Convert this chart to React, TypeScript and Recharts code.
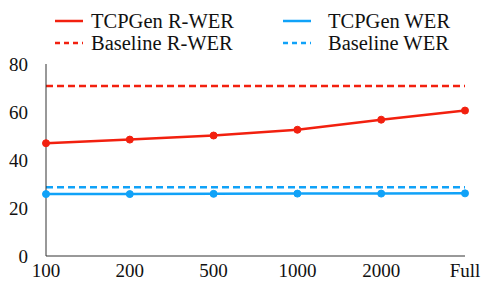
import { LineChart, Line, XAxis, YAxis } from 'recharts'

const categories = ['100', '200', '500', '1000', '2000', 'Full']
const tcpgenRwer = [47.0, 48.5, 50.2, 52.6, 56.8, 60.6]
const tcpgenWer = [25.8, 25.8, 25.9, 26.0, 26.0, 26.1]
const baselineRwer = [70.8, 70.8, 70.8, 70.8, 70.8, 70.8]
const baselineWer = [28.6, 28.6, 28.6, 28.6, 28.6, 28.6]
const yTicks = [0, 20, 40, 60, 80]

const RED = '#f2200f'
const BLUE = '#10a2f8'
const FONT = 'Liberation Serif, DejaVu Serif, serif'

const data = categories.map((c, i) => ({
  name: c,
  tcpgenRwer: tcpgenRwer[i],
  tcpgenWer: tcpgenWer[i],
  baselineRwer: baselineRwer[i],
  baselineWer: baselineWer[i]
}))

const legendItems = [
  { label: 'TCPGen R-WER', color: RED, dashed: false, x: 55, y: 21 },
  { label: 'TCPGen WER', color: BLUE, dashed: false, x: 283, y: 21 },
  { label: 'Baseline R-WER', color: RED, dashed: true, x: 55, y: 43 },
  { label: 'Baseline WER', color: BLUE, dashed: true, x: 283, y: 43 }
]

function LegendBox() {
  return (
    <div style={{ position: 'absolute', left: 0, top: 0, width: 483, height: 60, pointerEvents: 'none' }}>
      {legendItems.map((it) => (
        <div
          key={it.label}
          style={{ position: 'absolute', left: it.x, top: it.y - 12, height: 24, display: 'flex', alignItems: 'center' }}
        >
          <svg width={30} height={6} style={{ marginRight: it.x > 200 ? 15 : 6 }}>
            <line
              x1={0} y1={3} x2={28} y2={3}
              stroke={it.color} strokeWidth={2.5}
              strokeDasharray={it.dashed ? '5 4' : undefined}
            />
          </svg>
          <span style={{ fontFamily: FONT, fontSize: 20.5, color: '#111', whiteSpace: 'nowrap' }}>{it.label}</span>
        </div>
      ))}
    </div>
  )
}

export default function App() {
  return (
    <div style={{ position: 'absolute', left: 0, top: 0, width: 483, height: 287, background: '#fff' }}>
      <LegendBox />
      <LineChart width={483} height={287} data={data} margin={{ top: 64, right: 18, bottom: 0, left: 0 }}>
        <XAxis
          dataKey="name"
          height={31}
          padding={{ left: 0, right: 0 }}
          tickLine={false}
          axisLine={{ stroke: '#333', strokeWidth: 1 }}
          tick={{ fill: '#111', fontSize: 19, fontFamily: FONT }}
          tickMargin={2}
          interval={0}
        />
        <XAxis xAxisId="top" dataKey="name" orientation="top" height={0} tick={false} tickLine={false} axisLine={{ stroke: '#333' }} />
        <YAxis
          domain={[0, 80]}
          ticks={yTicks}
          width={46}
          tickLine={false}
          axisLine={{ stroke: '#333', strokeWidth: 1 }}
          tick={{ fill: '#111', fontSize: 19, fontFamily: FONT }}
          tickMargin={12}
        />
        <YAxis yAxisId="right" orientation="right" domain={[0, 80]} width={0} tick={false} tickLine={false} axisLine={{ stroke: '#333' }} />
        <Line
          dataKey="baselineRwer"
          stroke={RED}
          strokeWidth={2.5}
          strokeDasharray="7 4"
          dot={false}
          isAnimationActive={false}
        />
        <Line
          dataKey="baselineWer"
          stroke={BLUE}
          strokeWidth={2.5}
          strokeDasharray="7 4"
          dot={false}
          isAnimationActive={false}
        />
        <Line
          dataKey="tcpgenRwer"
          stroke={RED}
          strokeWidth={2.5}
          dot={{ r: 3.5, fill: RED, stroke: RED, strokeWidth: 1 }}
          isAnimationActive={false}
        />
        <Line
          dataKey="tcpgenWer"
          stroke={BLUE}
          strokeWidth={2.5}
          dot={{ r: 3.5, fill: BLUE, stroke: BLUE, strokeWidth: 1 }}
          isAnimationActive={false}
        />
      </LineChart>
    </div>
  )
}
